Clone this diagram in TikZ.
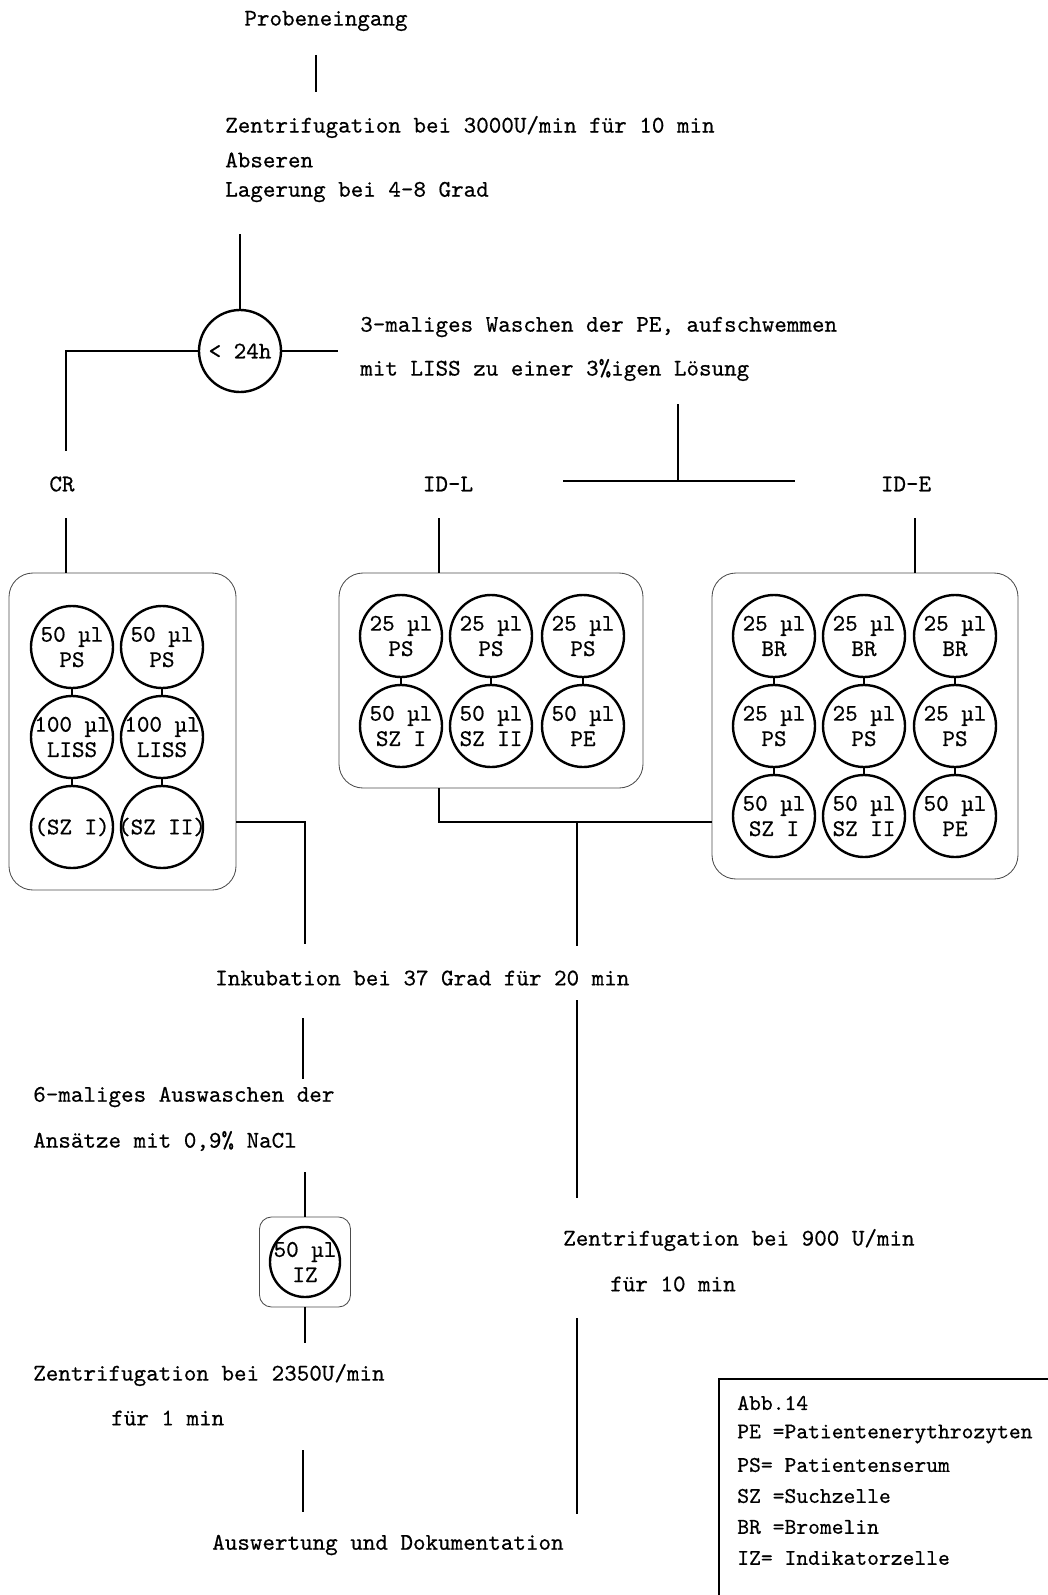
\documentclass[tikz,border=0pt]{standalone}
\usepackage{fontspec}
\setmonofont{lmmono10-regular}[Extension=.otf,FakeBold=0.5]
\usetikzlibrary{positioning}

\begin{document}
\begin{tikzpicture}[
    x=0.25mm, y=-0.25mm,
    lbl/.style={font=\ttfamily\fontsize{17}{19}\selectfont,inner sep=0pt,anchor=west},
    well/.style={circle,draw,line width=1.7pt,minimum size=20.5mm,inner sep=0pt},
    welltxt/.style={inner sep=0pt,align=center,font=\ttfamily\fontsize{17}{18}\selectfont},
    tray/.style={draw=black!70,rounded corners=6mm,line width=0.6pt,inner sep=0pt},
    link/.style={line width=1.1pt}
]
\useasboundingbox (0,0) rectangle (1048,1595);

% Probeneingang and first centrifugation
\node[lbl,anchor=center] (probe) at (326,21) {Probeneingang};
\node[lbl] (zent1) at (225,127) {Zentrifugation bei 3000U/min für 10 min};
\node[lbl] (abser) at (225,160) {Abseren};
\node[lbl] (lager) at (225,192) {Lagerung bei 4-8 Grad};
\coordinate (s1a) at (316,55);
\coordinate (s1b) at (316,92);
\draw[link] (s1a) -- (s1b);

% < 24h
\node[well] (h24) at (240,351) {};
\node[welltxt] at (h24) {< 24h};
\coordinate (s2) at (240,234);
\draw[link] (s2) -- (h24.north);
\coordinate (crtop) at (66,451);
\draw[link] (h24.west) -| (crtop);
\coordinate (washl) at (338,351);
\draw[link] (h24.east) -- (washl);
\node[lbl] (wash1) at (360,327) {3-maliges Waschen der PE, aufschwemmen};
\node[lbl] (wash2) at (360,370) {mit LISS zu einer 3\%igen Lösung};
\coordinate (sp0) at (678,404);
\coordinate (spL) at (563,481);
\coordinate (spR) at (795,481);
\draw[link] (sp0) -- (sp0 |- spL);
\draw[link] (spL) -- (spR);

% Karten
\node[lbl,anchor=center] (cr) at (62,484) {CR};
\node[lbl,anchor=center] (idl) at (448,484) {ID-L};
\node[lbl,anchor=center] (ide) at (906,484) {ID-E};
\node[tray,minimum width=56.75mm,minimum height=79.25mm] (crbox) at (122.5,731.5) {};
\node[tray,minimum width=76mm,minimum height=53.75mm] (idlbox) at (491,680.5) {};
\node[tray,minimum width=76.5mm,minimum height=76.5mm] (idebox) at (865,726) {};
\coordinate (crdrop) at (66,518);
\coordinate (idldrop) at (439,518);
\coordinate (idedrop) at (915,518);
\draw[link] (crdrop) -- (crdrop |- crbox.north);
\draw[link] (idldrop) -- (idldrop |- idlbox.north);
\draw[link] (idedrop) -- (idedrop |- idebox.north);

% CR wells
\foreach \nm/\px/\py/\txt in {c11/72/647/{50 µl\\PS}, c12/162/647/{50 µl\\PS},
    c21/72/737/{100 µl\\LISS}, c22/162/737/{100 µl\\LISS},
    c31/72/827/{(SZ I)}, c32/162/827/{(SZ II)}} {
    \node[well] (\nm) at (\px,\py) {};
    \node[welltxt] at (\nm) {\txt};
}
% ID-L wells
\foreach \nm/\px/\py/\txt in {l11/401/636/{25 µl\\PS}, l12/491/636/{25 µl\\PS}, l13/583/636/{25 µl\\PS},
    l21/401/726/{50 µl\\SZ I}, l22/491/726/{50 µl\\SZ II}, l23/583/726/{50 µl\\PE}} {
    \node[well] (\nm) at (\px,\py) {};
    \node[welltxt] at (\nm) {\txt};
}
% ID-E wells
\foreach \nm/\px/\py/\txt in {e11/774/636/{25 µl\\BR}, e12/864/636/{25 µl\\BR}, e13/955/636/{25 µl\\BR},
    e21/774/726/{25 µl\\PS}, e22/864/726/{25 µl\\PS}, e23/955/726/{25 µl\\PS},
    e31/774/816/{50 µl\\SZ I}, e32/864/816/{50 µl\\SZ II}, e33/955/816/{50 µl\\PE}} {
    \node[well] (\nm) at (\px,\py) {};
    \node[welltxt] at (\nm) {\txt};
}
\foreach \a/\b in {c11/c21, c21/c31, c12/c22, c22/c32, l11/l21, l12/l22, l13/l23,
    e11/e21, e21/e31, e12/e22, e22/e32, e13/e23, e23/e33}
    \draw[link] (\a) -- (\b);

% zur Inkubation
\coordinate (j1) at (305,822);
\coordinate (j1b) at (305,944);
\draw[link] (crbox.east |- j1) -- (j1) -- (j1b);
\coordinate (j2) at (577,822);
\coordinate (j2b) at (577,946);
\draw[link] (idldrop |- idlbox.south) -- (idldrop |- j2) -- (idebox.west |- j2);
\draw[link] (j2) -- (j2b);
\node[lbl] (inkub) at (215,978) {Inkubation bei 37 Grad für 20 min};

% linker Zweig
\coordinate (k1) at (303,1018);
\coordinate (k2) at (303,1079);
\draw[link] (k1) -- (k2);
\node[lbl] (wash6) at (33,1097) {6-maliges Auswaschen der};
\node[lbl] (nacl) at (33,1141) {Ansätze mit 0,9\% NaCl};
\node[tray,rounded corners=3mm,minimum width=22.75mm,minimum height=22.5mm] (izbox) at (305,1262) {};
\node[well,minimum size=17.5mm] (iz) at (305,1262) {};
\node[welltxt] at (iz) {50 µl\\IZ};
\coordinate (k3) at (305,1172);
\coordinate (k4) at (305,1343);
\draw[link] (k3) -- (izbox.north);
\draw[link] (izbox.south) -- (k4);
\node[lbl] (zent2) at (33,1375) {Zentrifugation bei 2350U/min};
\node[lbl] (fuer1) at (111,1418) {für 1 min};
\coordinate (k5) at (303,1450);
\coordinate (k6) at (303,1512);
\draw[link] (k5) -- (k6);
\node[lbl] (ausw) at (212,1545) {Auswertung und Dokumentation};

% rechter Zweig
\coordinate (r1) at (577,1000);
\coordinate (r2) at (577,1198);
\draw[link] (r1) -- (r2);
\node[lbl] (zent3) at (563,1240) {Zentrifugation bei 900 U/min};
\node[lbl] (fuer10) at (610,1284) {für 10 min};
\coordinate (r3) at (577,1318);
\coordinate (r4) at (577,1514);
\draw[link] (r3) -- (r4);

% Legende
\draw[line width=0.8pt] (719,1600) -- (719,1379) -- (1052,1379);
\begin{scope}[every node/.append style={font=\ttfamily\fontsize{16}{18}\selectfont}]
\node[lbl,font=\ttfamily\fontsize{16}{18}\selectfont] (abb) at (737,1403) {Abb.14};
\node[lbl,font=\ttfamily\fontsize{16}{18}\selectfont] (lgpe) at (737,1434) {PE =Patientenerythrozyten};
\node[lbl,font=\ttfamily\fontsize{16}{18}\selectfont] (lgps) at (737,1465) {PS= Patientenserum};
\node[lbl,font=\ttfamily\fontsize{16}{18}\selectfont] (lgsz) at (737,1496) {SZ =Suchzelle};
\node[lbl,font=\ttfamily\fontsize{16}{18}\selectfont] (lgbr) at (737,1527) {BR =Bromelin};
\node[lbl,font=\ttfamily\fontsize{16}{18}\selectfont] (lgiz) at (737,1558) {IZ= Indikatorzelle};
\end{scope}
\end{tikzpicture}
\end{document}
